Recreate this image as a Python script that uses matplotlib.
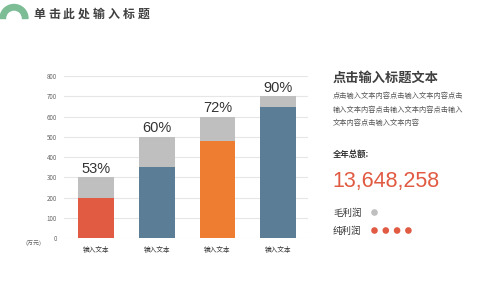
import matplotlib
matplotlib.use("Agg")
import matplotlib.pyplot as plt
from matplotlib.patches import Wedge, Circle

plt.rcParams['font.family'] = ['Noto Sans CJK SC', 'DejaVu Sans']

categories = ["输入文本", "输入文本", "输入文本", "输入文本"]
totals = [300, 500, 600, 700]
net_values = [200, 350, 480, 645]
pct_labels = ["53%", "60%", "72%", "90%"]
bar_colors = ["#E15A42", "#5B7D95", "#EE7D31", "#5B7D95"]
gray = "#BFBFBF"
yticks = [0, 100, 200, 300, 400, 500, 600, 700, 800]

title = "单击此处输入标题"
side_title = "点击输入标题文本"
side_body = ["点击输入文本内容点击输入文本内容点击",
             "输入文本内容点击输入文本内容点击输入",
             "文本内容点击输入文本内容"]
total_label = "全年总额:"
total_value = "13,648,258"
legend_labels = ["毛利润", "纯利润"]
legend_dots = [1, 4]

fig = plt.figure(figsize=(5, 2.81), dpi=100)
fig.patch.set_facecolor("white")

# overlay axes in pixel coords
ov = fig.add_axes([0, 0, 1, 1], zorder=5)
ov.set_xlim(0, 500)
ov.set_ylim(281, 0)
ov.axis("off")
ov.patch.set_alpha(0)

ov.add_patch(Wedge((14, 18.5), 14, 180, 360, width=5.5, color="#7CBD96"))
# title with wide letter spacing
for i, ch in enumerate(title):
    ov.text(33 + i * 15, 14.5, ch, fontsize=8.6, fontweight="bold", color="#404040",
            va="center", ha="left")

# main chart
ax = fig.add_axes([0.128, 0.153, 0.488, 0.5765])
x = list(range(len(categories)))
ax.bar(x, totals, width=0.59, color=gray, zorder=2)
ax.bar(x, net_values, width=0.59, color=bar_colors, zorder=3)
for xi, t, lab in zip(x, totals, pct_labels):
    ax.text(xi, t + 8, lab, ha="center", va="bottom", fontsize=10.5,
            color="#333333", family=["Liberation Sans", "DejaVu Sans"])
ax.set_xlim(-0.527, 3.49)
ax.set_ylim(0, 800)
ax.set_yticks(yticks)
ax.set_yticklabels([str(v) for v in yticks], fontsize=4.5, color="#666666")
ax.set_xticks(x)
ax.set_xticklabels(categories, fontsize=4.8, color="#333333")
ax.tick_params(axis="both", length=0)
ax.tick_params(axis="y", pad=5)
ax.tick_params(axis="x", pad=6)
ax.grid(axis="y", color="#E6E6E6", lw=0.8, zorder=0)
for s in ax.spines.values():
    s.set_visible(False)

ov.text(33, 243, "(万元)", fontsize=4.3, color="#666666", ha="center", va="center")

# right panel
ov.text(333, 78, side_title, fontsize=9.5, fontweight="bold", color="#404040",
        ha="left", va="center")
for yy, line in zip([96, 110, 123], side_body):
    ov.text(333, yy, line, fontsize=5.2, color="#555555", ha="left", va="center")
ov.text(333, 154, total_label, fontsize=6, fontweight="bold", color="#333333",
        ha="left", va="center")
ov.text(332, 181, total_value, fontsize=15.5, color="#E15A42", ha="left", va="center",
        family=["Liberation Sans", "DejaVu Sans"])
dot_colors = [gray, "#E15A42"]
for yy, lab, n, c in zip([213, 231], legend_labels, legend_dots, dot_colors):
    ov.text(333, yy, lab, fontsize=6.8, color="#333333",
            ha="left", va="center")
    for k in range(n):
        ov.add_patch(Circle((374.5 + k * 11.3, yy - 0.5), 2.6, color=c))

fig.savefig("out.png", dpi=100, facecolor="white")
